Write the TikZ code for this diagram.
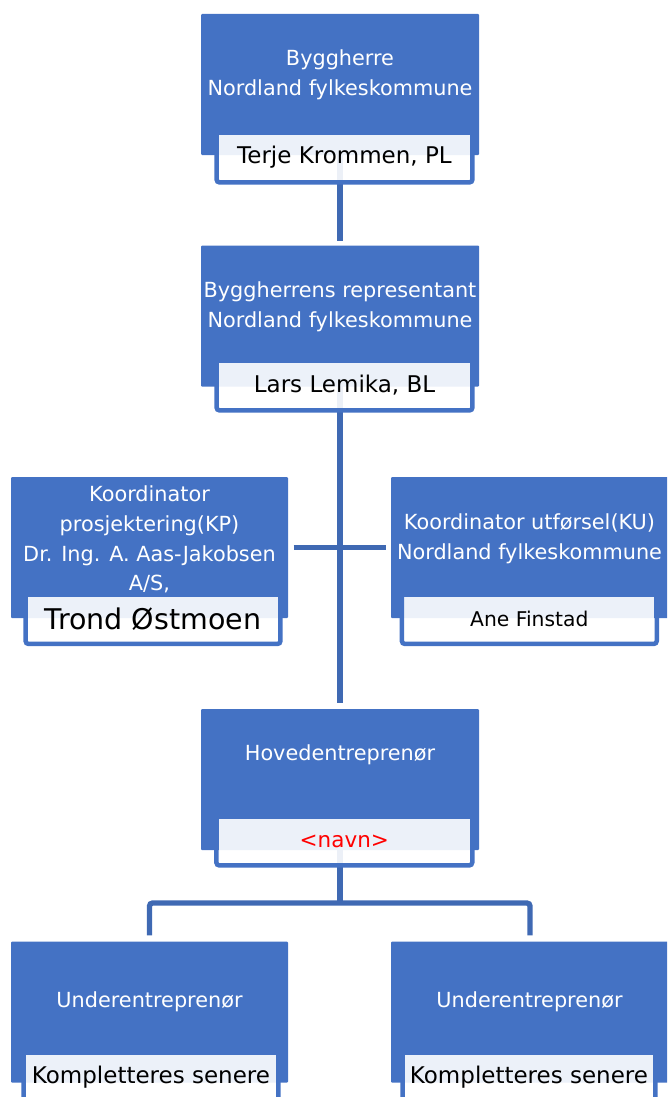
\documentclass[tikz,border=0pt]{standalone}
\usepackage{fontspec}
\setmainfont{DejaVu Sans}
\usetikzlibrary{backgrounds}
\definecolor{accent}{HTML}{4472C4}
\definecolor{connblue}{HTML}{3F69B3}
\definecolor{navnred}{HTML}{FF0000}
\begin{document}
\begin{tikzpicture}[x=1pt,y=-1pt,
  bluebox/.style={fill=accent, minimum width=278pt, minimum height=141pt, inner sep=0pt, rounded corners=1pt},
  role/.style={text=white, align=center, font=\fontsize{20.8}{29.8}\selectfont, inner sep=0pt},
  namebox/.style={fill=white, fill opacity=0.9, text opacity=1, inner sep=0pt, minimum width=251pt, minimum height=45pt, text=black, font=\fontsize{23}{27}\selectfont},
  nborder/.style={draw=accent, line width=4.5pt, rounded corners=3pt},
  conn/.style={draw=connblue, line width=5.3pt}]
\useasboundingbox (0,0) rectangle (667,1097);
\clip (0,0) rectangle (667,1097);

% blue boxes
\node[bluebox] (b1) at (340,84.5) {};
\node[bluebox] (b2) at (340,316) {};
\node[bluebox, minimum width=277pt] (b3) at (149.5,547.5) {};
\node[bluebox] (b4) at (530,547.5) {};
\node[bluebox] (b5) at (340,779.5) {};
\node[bluebox, minimum width=277pt] (b6) at (149.5,1012) {};
\node[bluebox] (b7) at (530,1012) {};

% connectors (behind)
\coordinate (split) at (340,903);
\begin{scope}[on background layer]
  \draw[conn, shorten >=4pt] (b1.center) -- (b2.north);
  \draw[conn, shorten >=5.5pt] (b2.center) -- (b5.north);
  \draw[conn, shorten <=5.5pt, shorten >=5pt] (b3.east) -- (b4.west);
  \draw[conn] (b5.center) -- (split);
  \draw[conn, rounded corners=3pt, shorten <=6pt, shorten >=6pt] (b6.north) |- (split) -| (b7.north);
\end{scope}

% role texts
\node[role] (t1) at (340,75) {Byggherre\\Nordland fylkeskommune};
\node[role] (t2) at (340,307) {Byggherrens representant\\Nordland fylkeskommune};
\node[role] (t3) at (149.5,539.5) {Koordinator\\prosjektering(KP)\\Dr. Ing. A. Aas-Jakobsen\\A/S,};
\node[role] (t4) at (529.5,539) {Koordinator utførsel(KU)\\Nordland fylkeskommune};
\node[role] (t5) at (340,755) {Hovedentreprenør};
\node[role] (t6) at (149.5,1002) {Underentreprenør};
\node[role] (t7) at (529.5,1002) {Underentreprenør};

% name boxes
\node[namebox] (n1) at (344.5,157.5) {Terje Krommen, PL};
\node[namebox] (n2) at (344.5,385.5) {Lars Lemika, BL};
\node[namebox, minimum width=250pt, font=\fontsize{28.5}{32}\selectfont] (n3) at (153,619) {Trond Østmoen};
\node[namebox, minimum width=250pt, font=\fontsize{20.3}{24}\selectfont] (n4) at (529.3,619) {Ane Finstad};
\node[namebox, minimum height=44pt, text=navnred, font=\fontsize{21.5}{24}\selectfont] (n5) at (344.3,841) {<navn>};
\node[namebox, minimum width=250pt] (n6) at (151,1077.5) {Kompletteres senere};
\node[namebox, minimum width=248pt] (n7) at (529,1077.5) {Kompletteres senere};

% name box borders (left, bottom, right)
\foreach \n in {n1,n2,n3,n4,n5,n6,n7}{
  \draw[nborder] ([xshift=-2.25pt]\n.north west) -- ([xshift=-2.25pt,yshift=-2.25pt]\n.south west) -- ([xshift=2.25pt,yshift=-2.25pt]\n.south east) -- ([xshift=2.25pt]\n.north east);
}
\end{tikzpicture}
\end{document}
